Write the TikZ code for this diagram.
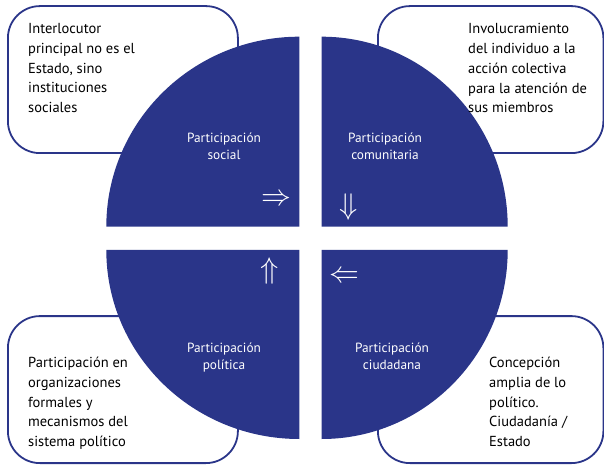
\documentclass[tikz,border=0pt]{standalone}
\usepackage{graphicx}
\usepackage{fontspec}
\setmainfont{PT Sans}
\definecolor{qblue}{RGB}{42,53,137}
\newcommand{\bigarrowglyph}[1]{\scalebox{1.2}{$#1$}}
\begin{document}
\begin{tikzpicture}[x=1pt,y=1pt,
  infobox/.style={draw=qblue, line width=1.8pt, fill=white, rounded corners=32pt,
    rectangle, inner sep=0pt, minimum width=230pt, minimum height=147pt, anchor=south west},
  quad/.style={fill=qblue, draw=none},
  boxtext/.style={anchor=north west, inner sep=0pt, align=left,
    font=\fontsize{14.5}{19.7}\selectfont, text=black},
  quadtext/.style={anchor=north, inner sep=0pt, align=center,
    font=\fontsize{13.3}{16.6}\selectfont, text=white},
  flowarrow/.style={text=white, inner sep=0pt, font=\Huge}]
\useasboundingbox (0,0) rectangle (604,466);

% information boxes (behind the quadrants)
\node[infobox] (boxTL) at (7,312) {};
\node[infobox, minimum width=225.5pt] (boxTR) at (377,312) {};
\node[infobox] (boxBL) at (7,2) {};
\node[infobox, minimum width=225.5pt] (boxBR) at (377,2) {};

% quadrants
\fill[quad] (299.3,239.3) -- ++(0,190) arc[start angle=90, end angle=180, x radius=193, y radius=190] -- cycle;
\fill[quad] (321.7,239.3) -- ++(186,0) arc[start angle=0, end angle=90, x radius=186, y radius=190] -- cycle;
\fill[quad] (299.3,216) -- ++(-193,0) arc[start angle=180, end angle=270, x radius=193, y radius=189] -- cycle;
\fill[quad] (321.7,216) -- ++(0,-189) arc[start angle=270, end angle=360, x radius=186, y radius=189] -- cycle;

% box texts
\node[boxtext] (tTL) at (28,442.5) {Interlocutor\\principal no es el\\Estado, sino\\instituciones\\sociales};
\node[boxtext] (tTR) at (468,442.5) {Involucramiento\\del individuo a la\\acción colectiva\\para la atención de\\sus miembros};
\node[boxtext] (tBL) at (28,108.8) {Participación en\\organizaciones\\formales y\\mecanismos del\\sistema político};
\node[boxtext] (tBR) at (489,108.8) {Concepción\\amplia de lo\\político.\\Ciudadanía /\\Estado};

% quadrant labels
\node[quadtext] (qTL) at (224,333) {Participación\\social};
\node[quadtext] (qTR) at (385,333) {Participación\\comunitaria};
\node[quadtext] (qBL) at (224,123) {Participación\\política};
\node[quadtext] (qBR) at (392,123) {Participación\\ciudadana};

% arrows
\node[flowarrow] (aTL) at (276,266) {\bigarrowglyph{\Rightarrow}};
\node[flowarrow] (aTR) at (349,258.5) {\bigarrowglyph{\Downarrow}};
\node[flowarrow] (aBL) at (269.5,195) {\bigarrowglyph{\Uparrow}};
\node[flowarrow] (aBR) at (344,189) {\bigarrowglyph{\Leftarrow}};
\end{tikzpicture}
\end{document}
